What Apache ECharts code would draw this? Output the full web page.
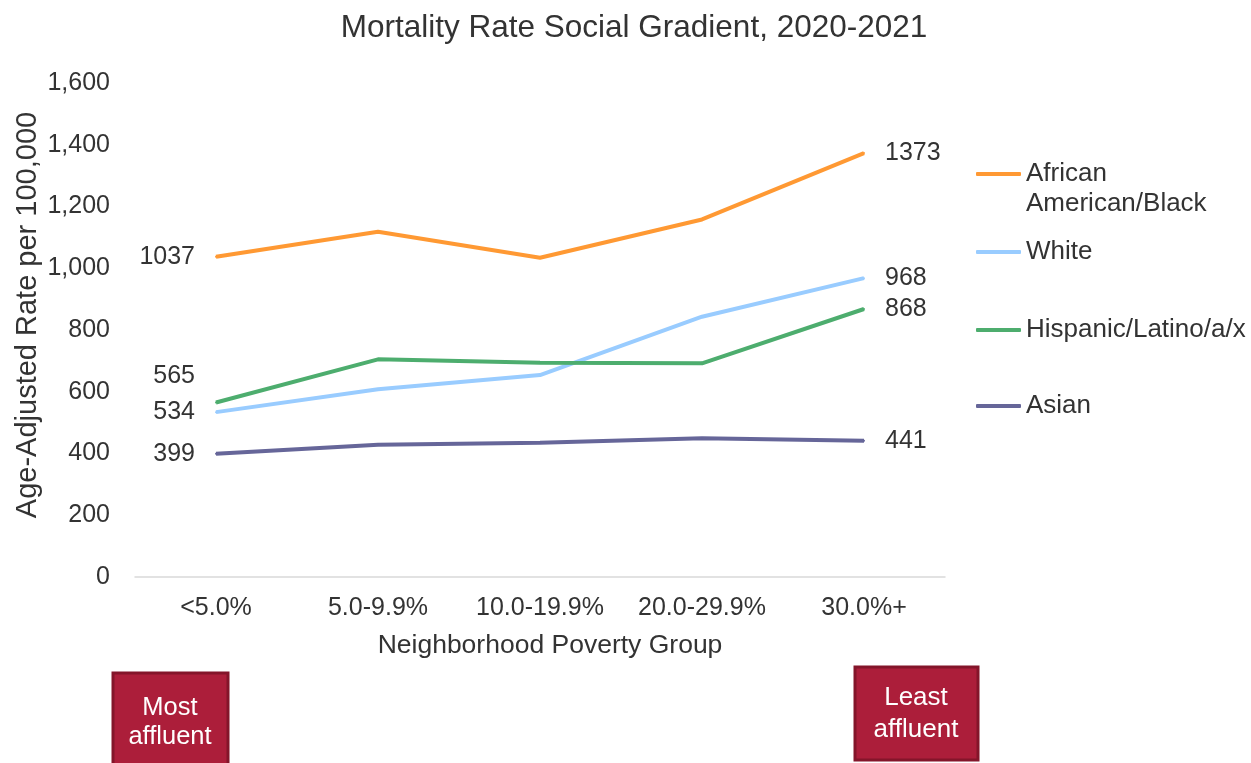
<!DOCTYPE html>
<html>
<head>
<meta charset="utf-8">
<script src="https://cdn.jsdelivr.net/npm/echarts@6/dist/echarts.min.js"></script>
<style>html,body{margin:0;padding:0;background:#fff}#c{width:1251px;height:763px}</style>
</head>
<body>
<div id="c"></div>
<script>
const categories = ['<5.0%', '5.0-9.9%', '10.0-19.9%', '20.0-29.9%', '30.0%+'];
const black = [1037, 1118, 1034, 1158, 1373];
const white = [534, 608, 654, 843, 968];
const hispanic = [565, 705, 694, 692, 868];
const asian = [399, 428, 435, 449, 441];
const yTicks = [0, 200, 400, 600, 800, 1000, 1200, 1400, 1600];

const FONT = 'Liberation Sans, Arial, sans-serif';
const TXT = '#333333';

function mkData(vals, firstOffset) {
  return vals.map((v, i) => {
    if (i === 0) return {value: v, label: {show: true, position: 'left', distance: 20, offset: firstOffset || [0, 0]}};
    if (i === vals.length - 1) return {value: v, label: {show: true, position: 'right', distance: 20}};
    return {value: v, label: {show: false}};
  });
}

const seriesDefs = [
  {name: 'African American/Black', vals: black, color: '#FF9933', off: [0, 0]},
  {name: 'White', vals: white, color: '#99CCFF', off: [0, 0]},
  {name: 'Hispanic/Latino/a/x', vals: hispanic, color: '#4DAD6E', off: [0, -26]},
  {name: 'Asian', vals: asian, color: '#666699', off: [0, 0]}
];

const legendTops = [129, 237, 315, 391];

const chart = echarts.init(document.getElementById('c'));
chart.setOption({
  animation: false,
  textStyle: {fontFamily: FONT},
  title: {
    text: 'Mortality Rate Social Gradient, 2020-2021',
    left: 629, top: 7, textAlign: 'center',
    textStyle: {fontFamily: FONT, fontSize: 31.5, fontWeight: 'normal', color: TXT}
  },
  legend: seriesDefs.map((s, i) => ({
    data: [s.name],
    orient: 'vertical',
    left: 976, top: legendTops[i],
    padding: 0,
    itemWidth: 45, itemHeight: 4, itemGap: 0,
    icon: 'roundRect',
    selectedMode: false,
    formatter: n => n === 'African American/Black' ? ' \nAfrican\nAmerican/Black' : n,
    textStyle: {fontFamily: FONT, fontSize: 26, color: TXT, lineHeight: 30}
  })),
  grid: {left: 135, right: 306, top: 83, bottom: 186, containLabel: false},
  xAxis: {
    type: 'category',
    data: categories,
    boundaryGap: true,
    axisLine: {show: true, lineStyle: {color: '#D9D9D9', width: 1.5}},
    axisTick: {show: false},
    axisLabel: {fontFamily: FONT, fontSize: 25, color: TXT, margin: 19, interval: 0},
    name: 'Neighborhood Poverty Group',
    nameLocation: 'middle',
    nameGap: 55,
    nameTextStyle: {fontFamily: FONT, fontSize: 26.5, color: TXT, padding: [0, 0, 0, 20]}
  },
  yAxis: {
    type: 'value',
    min: yTicks[0], max: yTicks[yTicks.length - 1], interval: 200,
    axisLine: {show: false},
    axisTick: {show: false},
    splitLine: {show: false},
    axisLabel: {fontFamily: FONT, fontSize: 25, color: TXT, margin: 25,
      formatter: v => v.toLocaleString('en-US')},
    name: 'Age-Adjusted Rate per 100,000',
    nameLocation: 'middle',
    nameGap: 93,
    nameMoveOverlap: false,
    nameRotate: 90,
    nameTextStyle: {fontFamily: FONT, fontSize: 29, color: TXT, padding: [0, 0, 0, 30]}
  },
  series: seriesDefs.map(s => ({
    name: s.name,
    type: 'line',
    data: mkData(s.vals, s.off),
    showSymbol: true,
    symbol: 'circle',
    symbolSize: 2,
    itemStyle: {color: s.color},
    lineStyle: {color: s.color, width: 4},
    label: {fontFamily: FONT, fontSize: 25, color: TXT},
    z: 2
  })),
  graphic: [
    {type: 'rect', x: 113, y: 673, shape: {x: 0, y: 0, width: 115, height: 96},
      style: {fill: '#AC1E3A', stroke: '#84152A', lineWidth: 3}},
    {type: 'text', x: 170, y: 722,
      style: {text: 'Most\naffluent', align: 'center', verticalAlign: 'middle',
        fill: '#FFFFFF', font: '25.5px ' + FONT, lineHeight: 29}},
    {type: 'rect', x: 855, y: 667, shape: {x: 0, y: 0, width: 123, height: 93},
      style: {fill: '#AC1E3A', stroke: '#84152A', lineWidth: 3}},
    {type: 'text', x: 916, y: 714,
      style: {text: 'Least\naffluent', align: 'center', verticalAlign: 'middle',
        fill: '#FFFFFF', font: '26px ' + FONT, lineHeight: 32}}
  ]
});
</script>
</body>
</html>
